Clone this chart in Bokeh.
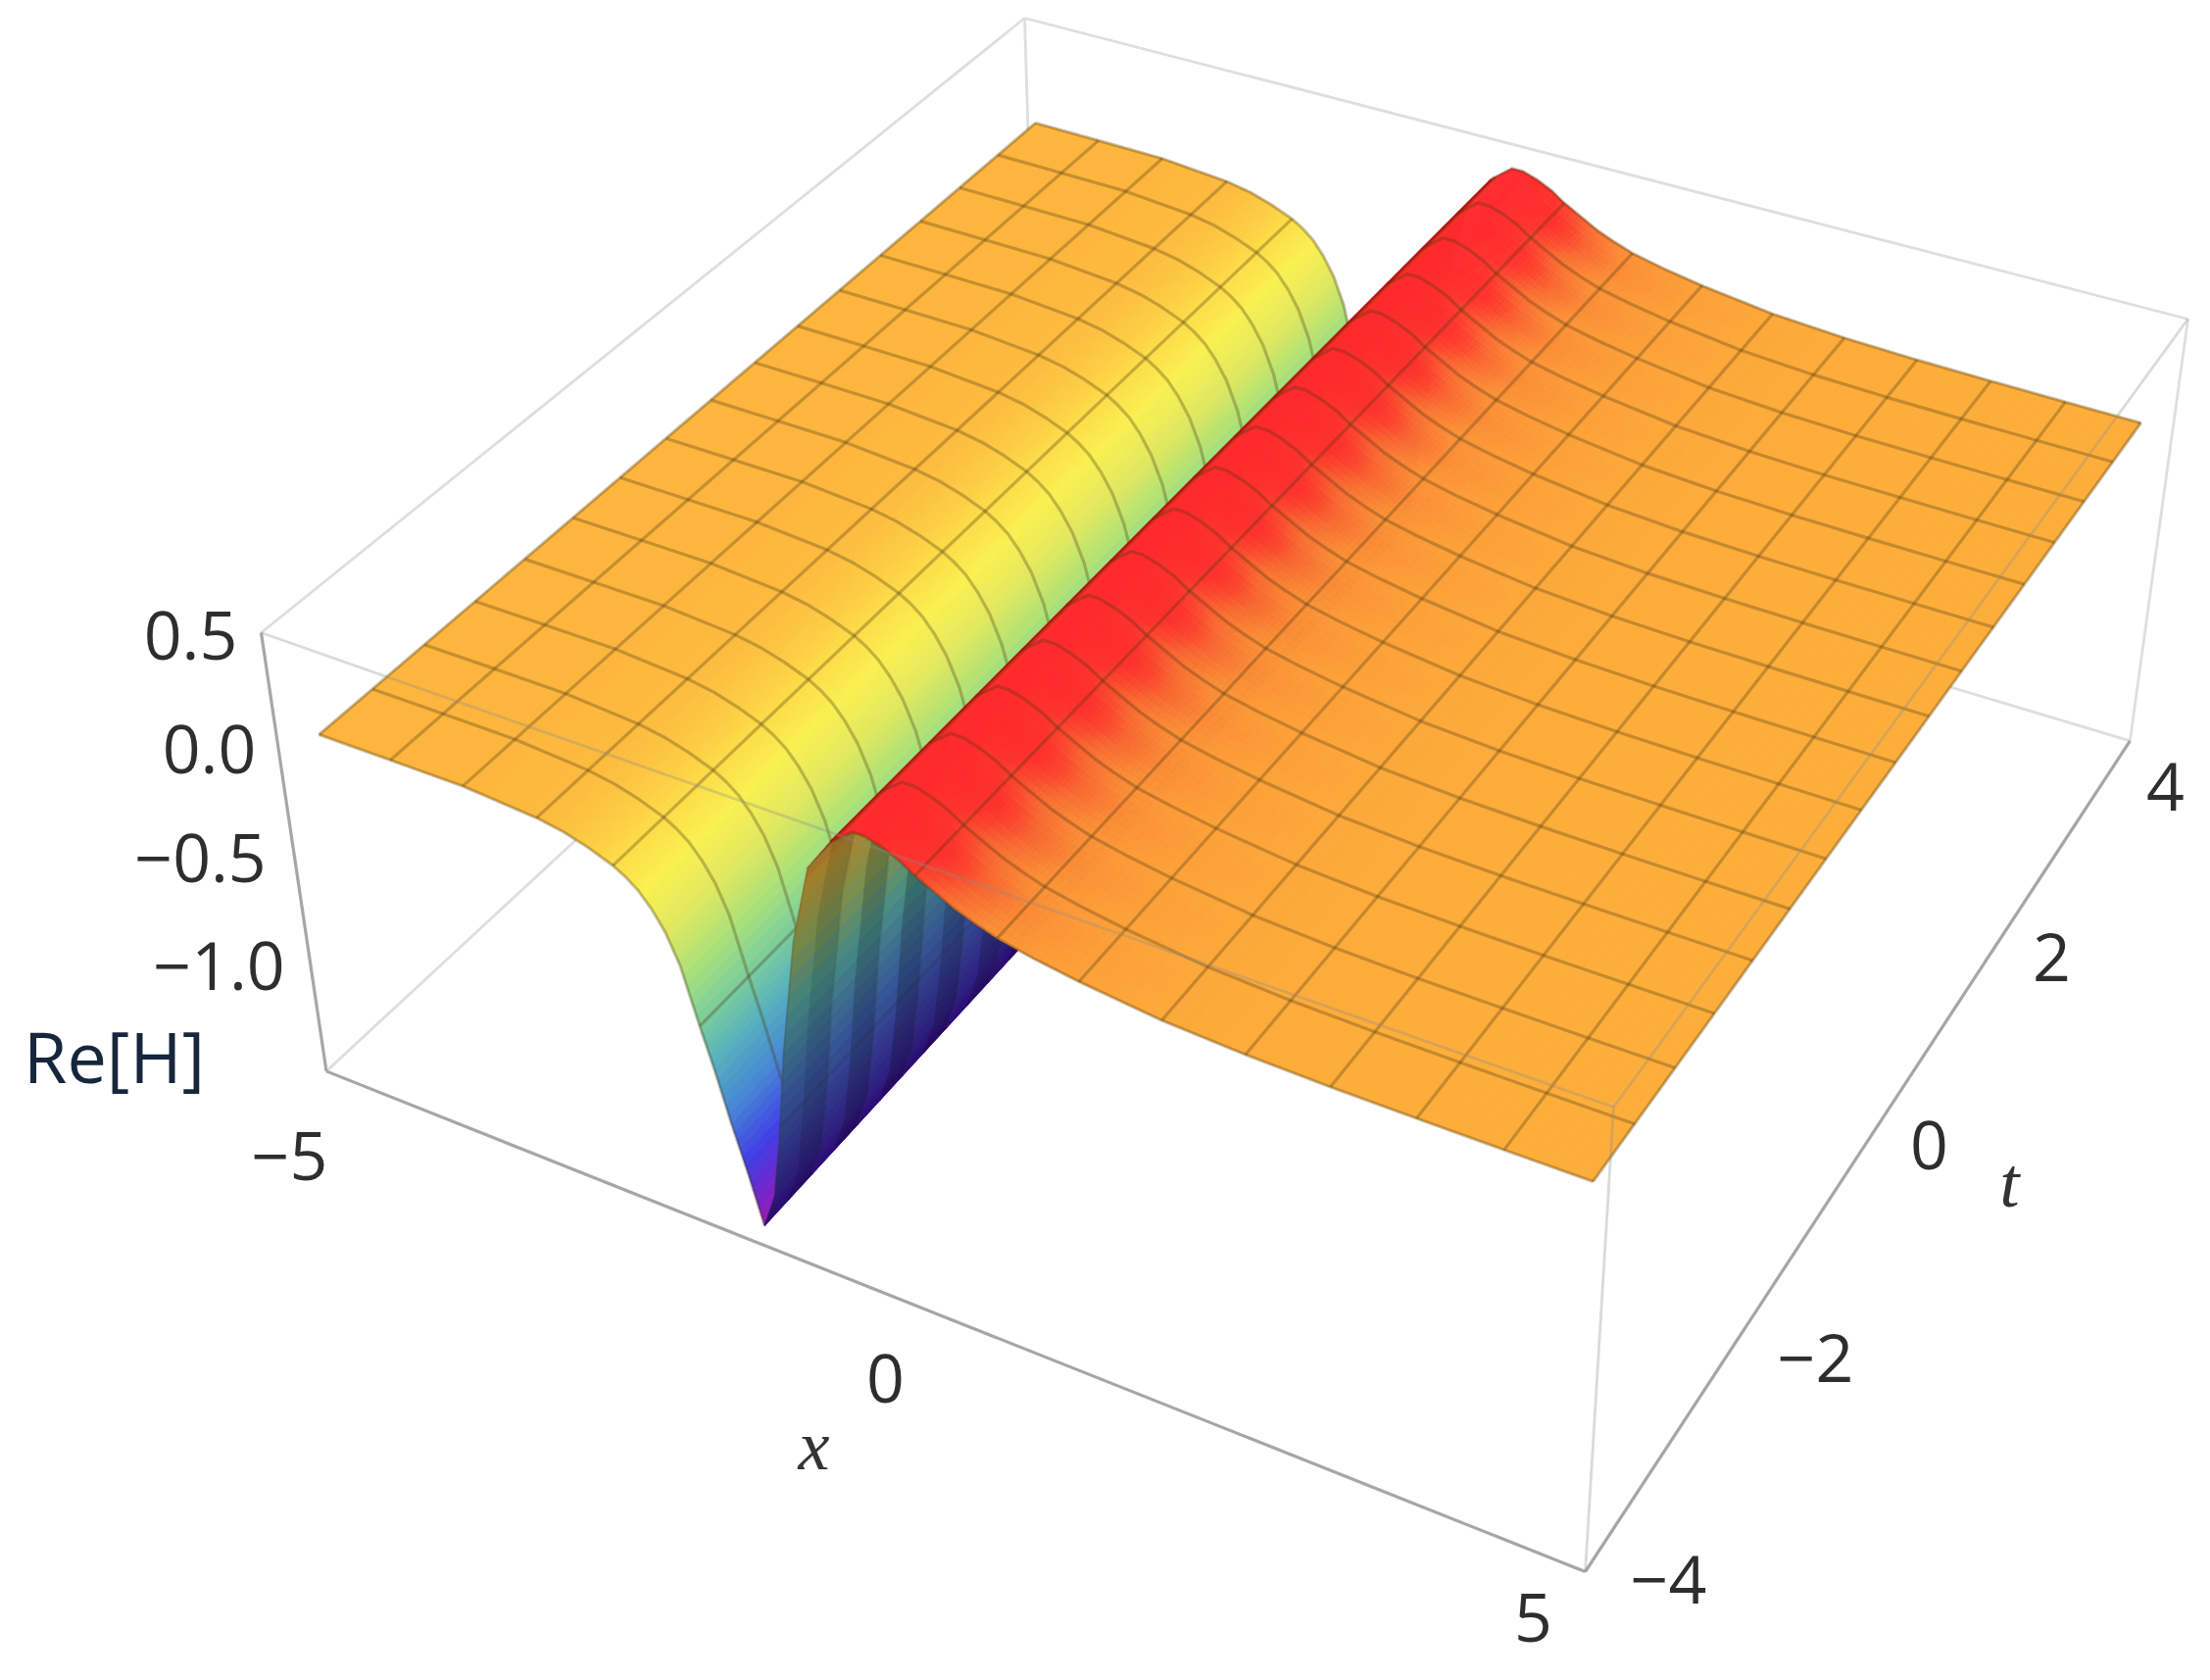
import numpy as np
from bokeh.plotting import figure
from bokeh.models import Range1d, ColumnDataSource
from bokeh.core.properties import value
from bokeh.embed import file_html
from bokeh.resources import INLINE

# ---------- data: Re[H] across x (the surface does not change along t)
x_left = [-5, -4.375, -3.75, -3.125, -2.9, -2.7, -2.5, -2.4, -2.3, -2.2, -2.1, -2.0, -1.875, -1.78, -1.67, -1.56, -1.45]
z_left = [0, -0.002, -0.005, -0.03, -0.05, -0.08, -0.12, -0.15, -0.19, -0.25, -0.33, -0.45, -0.69, -0.86, -1.08, -1.28, -1.5]
x_wall = [-1.45, -1.34, -1.26, -1.17, -1.02, -0.86, -0.66]
z_wall = [-1.5, -1.34, -1.06, -0.67, -0.17, 0.16, 0.30]
x_right = [-0.66, -0.48, -0.38, -0.25, -0.12, 0, 0.15, 0.3, 0.45, 0.625, 0.9, 1.25, 1.875, 2.5, 3.125, 3.75, 4.375, 5]
z_right = [0.30, 0.37, 0.37, 0.35, 0.32, 0.28, 0.24, 0.20, 0.17, 0.14, 0.11, 0.08, 0.04, 0.02, 0.01, 0.005, 0.002, 0]
wall_stripes = [1.0, 0.9, 1.06, 0.88, 1.08, 0.86, 1.03, 0.87, 1.07, 0.9, 1.02, 0.86, 1.06, 0.88, 1.04, 0.9,
                1.0, 0.9, 1.04, 0.9, 1.0, 0.9, 1.04, 0.9, 1.0, 0.9, 1.04, 0.9, 1.0, 0.9, 1.04, 0.9]
red_lobes = [0.9, 0.95, 1.0, 1.05, 1.06, 1.03, 0.97, 0.93]
x_ticks = ["\u22125", "0", "5"]
t_ticks = ["\u22124", "\u22122", "0", "2", "4"]
z_ticks = ["0.5", "0.0", "\u22120.5", "\u22121.0"]

# ---------- colour stops (height -> colour)
left_z = [-1.5, -1.38, -1.25, -1.05, -0.85, -0.65, -0.5, -0.33, -0.2, -0.12, -0.03, 0]
left_c = [(155, 25, 180), (110, 40, 205), (65, 60, 230), (70, 130, 215), (85, 175, 190), (130, 210, 150), (170, 225, 120),
          (225, 232, 95), (250, 240, 80), (253, 220, 72), (253, 186, 62), (253, 181, 61)]
wall_z = [-1.5, -1.2, -0.9, -0.5, -0.2, 0.1, 0.25, 0.36]
wall_c = [(40, 10, 110), (45, 45, 125), (50, 80, 140), (65, 130, 125), (120, 135, 70), (165, 125, 40), (150, 85, 45), (120, 30, 20)]
right_z = [0, 0.03, 0.08, 0.14, 0.2, 0.24, 0.28, 0.37]
right_c = [(253, 174, 58), (253, 170, 58), (252, 160, 56), (251, 142, 54), (250, 105, 50), (252, 72, 46), (255, 50, 45), (255, 42, 45)]

# ---------- camera, calibrated on the corners seen in the picture
V = (1265.0, 7366.0)
SURF_CORNERS = [(325, 749), (1625, 1205), (2184, 431), (1056, 125)]
BOX_TOP = [(266, 645), (1646, 1129), (2232, 325), (1045, 18)]
BOX_BOTTOM_FRONT = (1617, 1603)
Z_PX = 230.0


def homography(dst):
    src = [(-5, -4), (5, -4), (5, 4), (-5, 4)]
    A, b = [], []
    for (x, t), (u, v) in zip(src, dst):
        A.append([x, t, 1, 0, 0, 0, -u * x, -u * t])
        A.append([0, 0, 0, x, t, 1, -v * x, -v * t])
        b += [u, v]
    s = np.linalg.solve(np.array(A, float), np.array(b, float))
    return np.array([[s[0], s[1], s[2]], [s[3], s[4], s[5]], [s[6], s[7], 1.0]])


def camera(H, a):
    return np.array([[H[0, 0], H[0, 1], a * V[0], H[0, 2]],
                     [H[1, 0], H[1, 1], a * V[1], H[1, 2]],
                     [H[2, 0], H[2, 1], a, H[2, 2]]])


def project(P, x, t, z):
    q = P @ np.array([x, t, z, 1.0])
    return q[0] / q[2], q[1] / q[2]


Hs = homography(SURF_CORNERS)
w0 = Hs[2, 2]
p0 = np.array([Hs[0, 2], Hs[1, 2]]) / w0
dist = np.hypot(V[0] - p0[0], V[1] - p0[1])
r = Z_PX / dist
P_s = camera(Hs, -(r / (1 - r)) * w0)

Hb = homography(BOX_TOP)
wf = Hb[2] @ np.array([5, -4, 1.0])
r = (BOX_BOTTOM_FRONT[1] - BOX_TOP[1][1]) / (V[1] - BOX_TOP[1][1])
P_b = camera(Hb, -(r / (1 - r)) * wf / 2)  # z here counted from the top of the box


def bx(x, t, z):
    return project(P_b, x, t, z - 0.5)


def color(z, zs, cs, k=1.0):
    c = [min(255, int(round(k * np.interp(z, zs, [q[i] for q in cs])))) for i in range(3)]
    return "#%02x%02x%02x" % tuple(c)


SUB = 6


def bands(xv, zv, sub=SUB):
    for i in range(len(xv) - 1):
        for j in range(sub):
            f0, f1 = j / sub, (j + 1) / sub
            yield (xv[i] + f0 * (xv[i + 1] - xv[i]), xv[i] + f1 * (xv[i + 1] - xv[i]),
                   zv[i] + f0 * (zv[i + 1] - zv[i]), zv[i] + f1 * (zv[i + 1] - zv[i]))


def quad(x0, x1, t0, t1, z0, z1):
    pts = [project(P_s, x0, t0, z0), project(P_s, x1, t0, z1), project(P_s, x1, t1, z1), project(P_s, x0, t1, z0)]
    return [q[0] for q in pts], [q[1] for q in pts]


def strips(xv, zv, zs, cs):
    X, Y, C = [], [], []
    for x0, x1, z0, z1 in bands(xv, zv):
        a, b = quad(x0, x1, -4, 4, z0, z1)
        X.append(a); Y.append(b); C.append(color((z0 + z1) / 2, zs, cs))
    return dict(xs=X, ys=Y, c=C)


def wall_cells():
    X, Y, C = [], [], []
    n = len(wall_stripes)
    for k in range(n):
        t0, t1 = -4 + 8 * k / n, -4 + 8 * (k + 1) / n
        for x0, x1, z0, z1 in bands(x_wall, z_wall):
            a, b = quad(x0, x1, t0, t1, z0, z1)
            X.append(a); Y.append(b); C.append(color((z0 + z1) / 2, wall_z, wall_c, wall_stripes[k]))
    return dict(xs=X, ys=Y, c=C)


def right_cells():
    # the hot band of the picture swells and thins inside each mesh cell
    i0, i1 = x_right.index(-0.25), x_right.index(1.875)
    near = strips(x_right[:i0 + 1], z_right[:i0 + 1], right_z, right_c)
    far = strips(x_right[i1:], z_right[i1:], right_z, right_c)
    X, Y, C = [], [], []
    m = len(red_lobes)
    for x0, x1, z0, z1 in bands(x_right[i0:i1 + 1], z_right[i0:i1 + 1], 5):
        zm = (z0 + z1) / 2
        for c in range(16):
            for s in range(m):
                t0 = -4 + 0.5 * (c + s / m)
                t1 = -4 + 0.5 * (c + (s + 1) / m)
                a, b = quad(x0, x1, t0, t1, z0, z1)
                X.append(a); Y.append(b); C.append(color(zm * red_lobes[s], right_z, right_c))
    return dict(xs=near["xs"] + X + far["xs"], ys=near["ys"] + Y + far["ys"], c=near["c"] + C + far["c"])


mesh_x = [-5 + 0.625 * k for k in range(17)]
mesh_t = [-4 + 0.5 * k for k in range(17)]


def mesh(xv, zv):
    X, Y = [], []
    for t in mesh_t:
        pts = [project(P_s, a, t, b) for a, b in zip(xv, zv)]
        X.append([q[0] for q in pts])
        Y.append([q[1] for q in pts])
    for mx in mesh_x:
        if xv[0] - 1e-6 <= mx <= xv[-1] + 1e-6:
            mz = float(np.interp(mx, xv, zv))
            a, b = project(P_s, mx, -4, mz), project(P_s, mx, 4, mz)
            X.append([a[0], b[0]])
            Y.append([a[1], b[1]])
    return dict(xs=X, ys=Y)


p = figure(width=2239, height=1698, x_range=Range1d(0, 2239), y_range=Range1d(1698, 0),
           output_backend="svg", toolbar_location=None, min_border=0)
p.axis.visible = False
p.grid.visible = False
p.outline_line_color = None

TL, TF, TR, TB = bx(-5, -4, .5), bx(5, -4, .5), bx(5, 4, .5), bx(-5, 4, .5)
BL, BF, BR, BB = bx(-5, -4, -1.5), bx(5, -4, -1.5), bx(5, 4, -1.5), bx(-5, 4, -1.5)


def lines(pairs, **kw):
    p.multi_line([[a[0], b[0]] for a, b in pairs], [[a[1], b[1]] for a, b in pairs], **kw)


lines([(TL, TB), (TB, TR), (TB, BB), (BL, BB), (BR, BB), (BR, TR)], line_color="#dedede", line_width=2.8)
lines([(TL, BL), (BL, BF), (BF, BR)], line_color="#a6a6a6", line_width=3.2)

MESH = dict(line_color="#4a3810", line_alpha=0.31, line_width=3.2)

s = ColumnDataSource(strips(x_left, z_left, left_z, left_c))
p.patches("xs", "ys", source=s, fill_color="c", line_color="c", line_width=0.8)
p.multi_line("xs", "ys", source=ColumnDataSource(mesh(x_left, z_left)), **MESH)

s = ColumnDataSource(wall_cells())
p.patches("xs", "ys", source=s, fill_color="c", line_color="c", line_width=0.8)
p.multi_line("xs", "ys", source=ColumnDataSource(mesh(x_wall, z_wall)), line_color="#3a3020", line_alpha=0.14, line_width=2.2)

s = ColumnDataSource(right_cells())
p.patches("xs", "ys", source=s, fill_color="c", line_color="c", line_width=0.8)
p.multi_line("xs", "ys", source=ColumnDataSource(mesh(x_right, z_right)), **MESH)
ra, rb = project(P_s, x_right[0], -4, z_right[0]), project(P_s, x_right[0], 4, z_right[0])
lines([(ra, rb)], line_color="#b00000", line_alpha=0.7, line_width=2.2)

# box edges that show through the surface
lines([(TL, TF), (TF, TR), (TF, BF)], line_color="#8c8c8c", line_alpha=0.32, line_width=2.8)

# texts
TICK = dict(text_font=value("Open Sans"), text_font_size="68px", text_color="#2e2e2e",
            text_align="center", text_baseline="middle")
z_pos = [(194, 648), (213, 764), (204, 875), (223, 985)]
x_pos = [(295, 1179), (903, 1406), (1564, 1650)]
t_pos = [(1702, 1611), (1852, 1385), (1968, 1168), (2093, 976), (2209, 802)]
for labels, pos in ((z_ticks, z_pos), (x_ticks, x_pos), (t_ticks, t_pos)):
    p.text([q[0] for q in pos], [q[1] for q in pos], text=labels, **TICK)
ITAL = dict(text_font=value("Liberation Serif"), text_font_style="italic", text_font_size="72px",
            text_color="#333333", text_align="center", text_baseline="middle")
p.text([830], [1474], text=["x"], **ITAL)
p.text([2050], [1206], text=["t"], **ITAL)
p.text([116], [1076], text=["Re[H]"], text_font=value("Open Sans"), text_font_size="72px",
       text_color="#16263c", text_align="center", text_baseline="middle")

open("out.html", "w").write(file_html(p, INLINE))
